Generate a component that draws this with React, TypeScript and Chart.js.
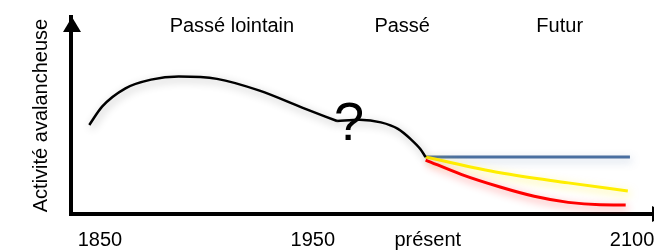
import React, { useEffect, useRef } from "react";
import { Chart, registerables } from "chart.js";

Chart.register(...registerables);

// ---- data ----
const earlyYears = [1845, 1851, 1862, 1874, 1887, 1905, 1925, 1945, 1961.4];
const earlyActivity = [45.2, 54.5, 63.8, 68.2, 69.8, 68.6, 62.6, 54.0, 47.2];

const lateYears = [1961.4, 1972, 1982, 1990, 1996, 2000.5, 2003];
const lateActivity = [47.2, 47.8, 46.5, 43.2, 38.0, 33.0, 28.9];

const blueYears = [2003, 2099];
const blueActivity = [28.9, 28.9];

const yellowYears = [2003, 2038, 2070, 2098];
const yellowActivity = [28.9, 20.9, 15.8, 11.7];

const redYears = [2003, 2020, 2038, 2054, 2070, 2085, 2097];
const redActivity = [27.4, 20.0, 13.7, 9.0, 5.9, 4.7, 4.6];

const tickValues = [1850, 1950, 2004, 2100];
const tickLabels = ["1850", "1950", "présent", "2100"];

const periodLabels = ["Passé lointain", "Passé", "Futur"];
const periodCenters = [1912, 1992, 2066];

const questionYear = 1967;
const questionValue = 45;

const yTitle = "Activité avalancheuse";

const toPoints = (xs: number[], ys: number[]) => xs.map((x, i) => ({ x, y: ys[i] }));

const FONT = "'Liberation Sans', Arial, sans-serif";

const decorPlugin = {
  id: "decor",
  beforeDatasetDraw(chart: any, args: any) {
    const ctx = chart.ctx;
    const ds = chart.data.datasets[args.index];
    ctx.save();
    ctx.shadowColor = ds.glow || "rgba(0,0,0,0.3)";
    ctx.shadowBlur = 8;
    ctx.shadowOffsetX = 2;
    ctx.shadowOffsetY = 3;
  },
  afterDatasetDraw(chart: any) {
    chart.ctx.restore();
  },
  afterDatasetsDraw(chart: any) {
    const ctx = chart.ctx;
    const xs = chart.scales.x;
    const ys = chart.scales.y;
    const area = chart.chartArea;
    ctx.save();
    // arrows
    ctx.fillStyle = "#000";
    const ax = area.left;
    ctx.beginPath();
    ctx.moveTo(ax - 8, area.top + 15);
    ctx.lineTo(ax + 1, area.top);
    ctx.lineTo(ax + 10, area.top + 15);
    ctx.closePath();
    ctx.fill();
    const ay = area.bottom;
    ctx.beginPath();
    ctx.moveTo(area.right - 2, ay - 8);
    ctx.lineTo(area.right + 13, ay);
    ctx.lineTo(area.right - 2, ay + 8);
    ctx.closePath();
    ctx.fill();
    // period labels
    ctx.font = `20px ${FONT}`;
    ctx.textAlign = "center";
    ctx.textBaseline = "middle";
    periodLabels.forEach((t, i) => {
      ctx.fillText(t, xs.getPixelForValue(periodCenters[i]), area.top + 9);
    });
    // question mark
    ctx.font = `54px ${FONT}`;
    ctx.fillText("?", xs.getPixelForValue(questionYear), ys.getPixelForValue(questionValue));
    ctx.restore();
  },
};

const lineBase = {
  pointRadius: 0,
  cubicInterpolationMode: "monotone",
};

export default function App() {
  const ref = useRef<HTMLCanvasElement | null>(null);
  useEffect(() => {
    if (!ref.current) return;
    const chart = new Chart(ref.current, {
      type: "line",
      data: {
        datasets: [
          {
            ...lineBase,
            data: toPoints(earlyYears, earlyActivity),
            borderColor: "#000000",
            borderWidth: 2.5,
            glow: "rgba(0,0,0,0.3)",
          } as any,
          {
            ...lineBase,
            data: toPoints(lateYears, lateActivity),
            borderColor: "#000000",
            borderWidth: 2.5,
            glow: "rgba(0,0,0,0.3)",
          } as any,
          {
            ...lineBase,
            data: toPoints(redYears, redActivity),
            borderColor: "#ff0000",
            borderWidth: 3,
            glow: "rgba(255,0,0,0.45)",
          } as any,
          {
            ...lineBase,
            data: toPoints(yellowYears, yellowActivity),
            borderColor: "#ffee00",
            borderWidth: 3,
            glow: "rgba(255,238,0,0.5)",
          } as any,
          {
            ...lineBase,
            data: toPoints(blueYears, blueActivity),
            borderColor: "#4a6fa0",
            borderWidth: 3,
            glow: "rgba(74,111,160,0.35)",
          } as any,
        ],
      },
      options: {
        animation: false,
        responsive: true,
        maintainAspectRatio: false,
        layout: { padding: { top: 17, left: 0, right: 0, bottom: 0 } },
        plugins: { legend: { display: false }, tooltip: { enabled: false } },
        scales: {
          x: {
            type: "linear",
            min: 1836.4,
            max: 2110.3,
            grid: { display: false, drawTicks: false },
            border: { display: true, color: "#000", width: 4 },
            afterBuildTicks: (s: any) => {
              s.ticks = tickValues.map((v) => ({ value: v }));
            },
            afterFit: (s: any) => {
              s.height = 37;
              s.paddingLeft = 0;
              s.paddingRight = 0;
            },
            ticks: {
              color: "#000",
              padding: 14,
              maxRotation: 0,
              autoSkip: false,
              font: { family: FONT, size: 20 },
              callback: (v: any) => {
                const i = tickValues.indexOf(Number(v));
                return i >= 0 ? tickLabels[i] : "";
              },
            },
          },
          y: {
            min: 0,
            max: 100,
            grid: { display: false, drawTicks: false },
            border: { display: true, color: "#000", width: 4 },
            ticks: { display: false },
            afterFit: (s: any) => {
              s.width = 71;
            },
            title: {
              display: true,
              text: yTitle,
              color: "#000",
              font: { family: FONT, size: 20 },
              padding: { top: 29, bottom: 0 },
            },
          },
        },
      },
      plugins: [decorPlugin],
    });
    return () => chart.destroy();
  }, []);
  return (
    <div style={{ position: "fixed", left: 0, top: 0, width: 654, height: 251, background: "#fff" }}>
      <canvas ref={ref} />
    </div>
  );
}
